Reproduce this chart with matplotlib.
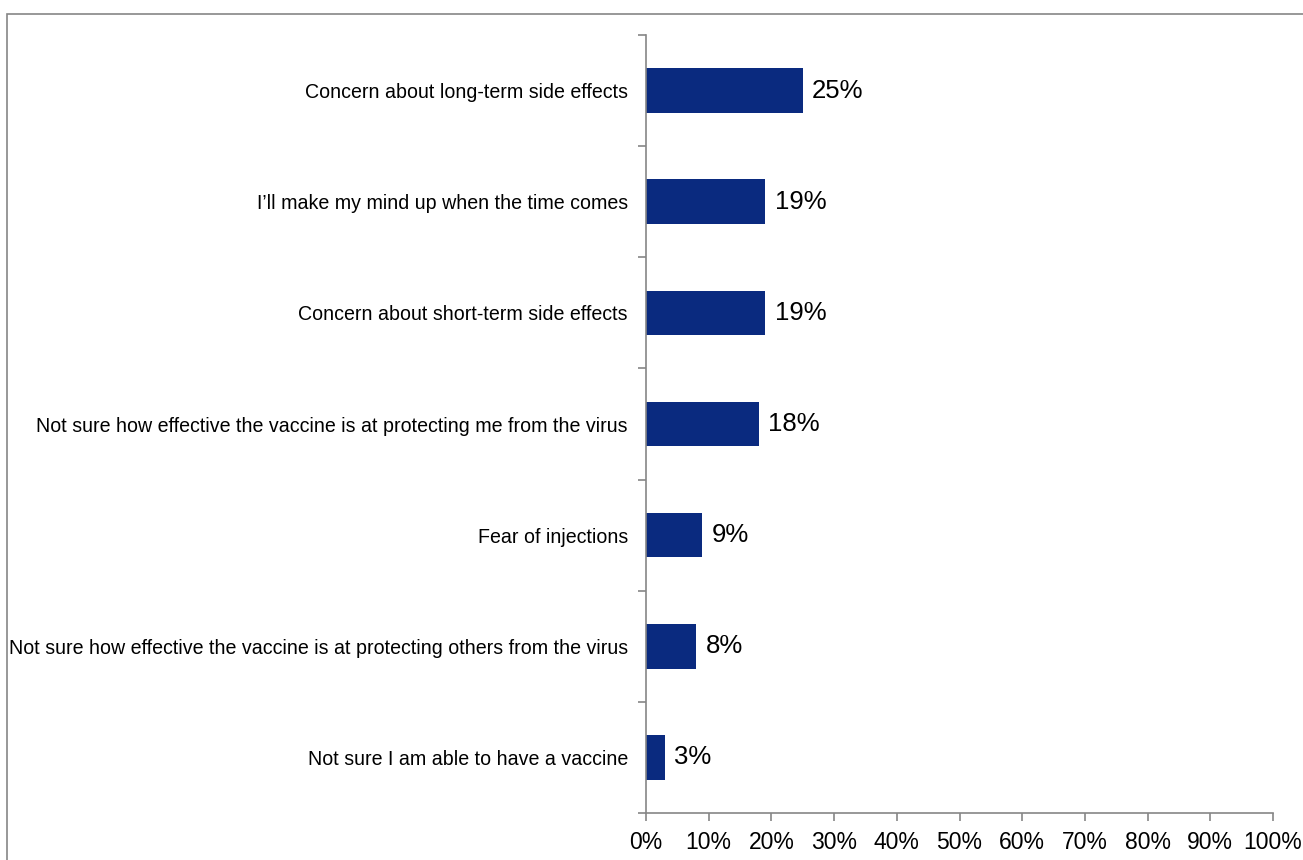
import matplotlib
matplotlib.use("Agg")
import matplotlib.pyplot as plt
from matplotlib.patches import Rectangle

categories = [
    "Concern about long-term side effects",
    "I\u2019ll make my mind up when the time comes",
    "Concern about short-term side effects",
    "Not sure how effective the vaccine is at protecting me from the virus",
    "Fear of injections",
    "Not sure how effective the vaccine is at protecting others from the virus",
    "Not sure I am able to have a vaccine",
]
values = [25, 19, 19, 18, 9, 8, 3]
xticks = [0, 10, 20, 30, 40, 50, 60, 70, 80, 90, 100]

plt.rcParams['font.family'] = ['Liberation Sans', 'DejaVu Sans']

fig = plt.figure(figsize=(13.03, 8.6), dpi=100)
ax = fig.add_axes([646/1303, 47/860, (1273-646)/1303, (813-35)/860])

# outer frame around the chart area
fig.patches.append(Rectangle((7/1303, -0.1), 1.2, (860-14)/860 + 0.1,
                             transform=fig.transFigure, fill=False,
                             edgecolor='#868686', linewidth=1.2))

n = len(categories)
ypos = list(range(n))
ax.barh(ypos, values, height=0.4, color='#0A2A7F')
ax.set_ylim(n - 0.5, -0.5)
ax.set_xlim(0, 100)

for y, v in zip(ypos, values):
    ax.text(v + 1.5, y, f"{v}%", va='center', ha='left', fontsize=18.5, color='black')

ax.set_xticks(xticks)
ax.set_xticklabels([f"{t}%" for t in xticks], fontsize=16.5)
ax.set_yticks([i - 0.5 for i in range(n + 1)], minor=False)
ax.set_yticklabels([])
ax.set_yticks(ypos, minor=True)
ax.set_yticklabels(categories, minor=True, fontsize=14.1)
ax.tick_params(axis='y', which='minor', length=0, pad=13)
ax.tick_params(axis='y', which='major', length=6, direction='out', color='#868686', width=1.2)
ax.tick_params(axis='x', length=6, direction='out', color='#868686', width=1.2, pad=7)

for s in ['top', 'right']:
    ax.spines[s].set_visible(False)
for s in ['left', 'bottom']:
    ax.spines[s].set_color('#868686')
    ax.spines[s].set_linewidth(1.2)

fig.savefig("out.png", dpi=100)
